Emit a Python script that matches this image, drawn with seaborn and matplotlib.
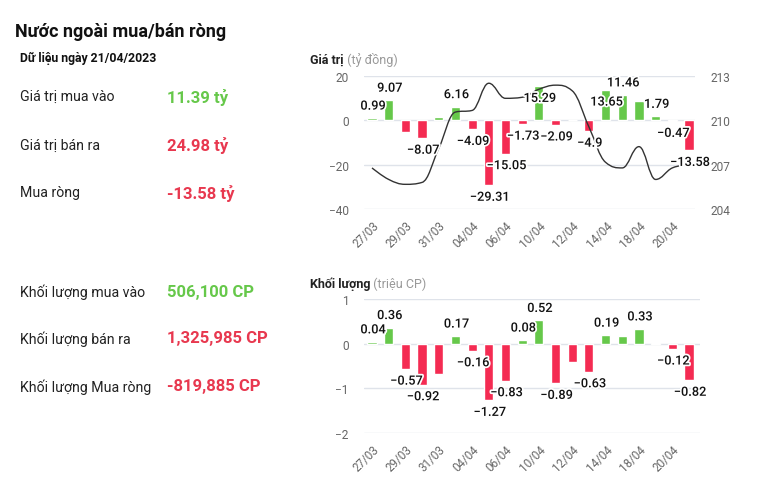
import numpy as np
import pandas as pd
import seaborn as sns
import matplotlib.pyplot as plt
from matplotlib.path import Path
from matplotlib.patches import PathPatch
import matplotlib.patheffects as pe

# dữ liệu
dates = ["27/03", "28/03", "29/03", "30/03", "31/03", "03/04", "04/04", "05/04", "06/04", "07/04",
         "10/04", "11/04", "12/04", "13/04", "14/04", "17/04", "18/04", "19/04", "20/04", "21/04"]
gia_tri = [0.99, 9.07, -5.3, -8.07, 1.3, 6.16, -4.09, -29.31, -15.05, -1.73,
           15.29, -2.09, 0.0, -4.9, 13.65, 11.46, 8.9, 1.79, -0.47, -13.58]
khoi_luong = [0.04, 0.36, -0.57, -0.92, -0.68, 0.17, -0.16, -1.27, -0.83, 0.08,
              0.52, -0.89, -0.41, -0.63, 0.19, 0.17, 0.33, 0.01, -0.12, -0.82]
gia_cp = [206.78, 206.0, 205.67, 205.8, 208.1, 210.56, 210.67, 212.51, 211.49, 211.56,
          212.1, 212.38, 212.0, 209.56, 207.16, 206.78, 208.22, 206.0, 206.78, 207.0]
# cách hiển thị nhãn: "out" ngoài cột, "in" trong cột, "" ẩn
nhan_gt = ["out", "out", "", "out", "", "out", "out", "out", "out", "out",
           "in", "out", "", "out", "in", "out", "", "out", "out", "out"]
nhan_kl = ["out", "out", "out", "out", "", "out", "out", "out", "out", "out",
           "out", "out", "", "out", "out", "", "out", "", "out", "out"]

tong_ket_gt = [("Giá trị mua vào", "11.39 tỷ"), ("Giá trị bán ra", "24.98 tỷ"), ("Mua ròng", "-13.58 tỷ")]
tong_ket_kl = [("Khối lượng mua vào", "506,100 CP"), ("Khối lượng bán ra", "1,325,985 CP"),
               ("Khối lượng Mua ròng", "-819,885 CP")]

XANH = "#66c84a"
DO = "#f42b52"
DO_CHU = "#e8384f"
XAM = "#666666"
LUOI = "#dfe3ea"

sns.set_theme(style="white")
plt.rcParams['font.family'] = ['Roboto', 'DejaVu Sans']

fig = plt.figure(figsize=(7.63, 5.02), dpi=100)
W, H = 763, 502


def px(x, y):
    return x / W, 1 - y / H


def fmt(v):
    return f"{v:g}".replace("-", "\u2212")


def spline_path(xs, ys, s=1.5):
    # đường cong kiểu highcharts spline
    n = len(xs)
    d = s + 1
    lc = [None] * n
    rc = [None] * n
    for i in range(1, n - 1):
        px_, py_ = xs[i - 1], ys[i - 1]
        nx_, ny_ = xs[i + 1], ys[i + 1]
        x, y = xs[i], ys[i]
        lcx = (s * x + px_) / d
        lcy = (s * y + py_) / d
        rcx = (s * x + nx_) / d
        rcy = (s * y + ny_) / d
        if rcx != lcx:
            corr = ((rcy - lcy) * (rcx - x)) / (rcx - lcx) + y - rcy
            lcy += corr
            rcy += corr
        if lcy > py_ and lcy > y:
            lcy = max(py_, y)
            rcy = 2 * y - lcy
        elif lcy < py_ and lcy < y:
            lcy = min(py_, y)
            rcy = 2 * y - lcy
        if rcy > ny_ and rcy > y:
            rcy = max(ny_, y)
            lcy = 2 * y - rcy
        elif rcy < ny_ and rcy < y:
            rcy = min(ny_, y)
            lcy = 2 * y - rcy
        lc[i] = (lcx, lcy)
        rc[i] = (rcx, rcy)
    verts = [(xs[0], ys[0])]
    codes = [Path.MOVETO]
    for i in range(1, n):
        c1 = rc[i - 1] if rc[i - 1] else (xs[i - 1], ys[i - 1])
        c2 = lc[i] if lc[i] else (xs[i], ys[i])
        verts += [c1, c2, (xs[i], ys[i])]
        codes += [Path.CURVE4] * 3
    return Path(verts, codes)


def ve_cot(ax, values, ylim, yticks, xmax):
    df = pd.DataFrame({"ngay": dates, "gt": values})
    colors = [XANH if v >= 0 else DO for v in values]
    sns.barplot(data=df, x="ngay", y="gt", hue="ngay", palette=colors, legend=False,
                width=0.55, ax=ax, saturation=1, zorder=2)
    ax.set_xlim(-0.48, xmax)
    ax.set_ylim(*ylim)
    ax.set_yticks(yticks)
    ax.set_yticklabels([fmt(t) for t in yticks], color=XAM, fontsize=8.6)
    ax.set_xticks(range(0, len(dates), 2))
    ax.set_xticklabels(dates[::2], rotation=45, ha="right", rotation_mode="anchor",
                       color=XAM, fontsize=8.4)
    ax.tick_params(axis="x", length=0, pad=7)
    ax.tick_params(axis="y", length=0, pad=11)
    ax.set_xlabel("")
    ax.set_ylabel("")
    for sp in ax.spines.values():
        sp.set_visible(False)
    ax.grid(axis="y", color=LUOI, linewidth=1, zorder=0)
    ax.set_axisbelow(True)


def ve_nhan(ax_ve, ax_du_lieu, values, flags):
    halo = [pe.withStroke(linewidth=2.5, foreground="white")]
    for i, (v, f) in enumerate(zip(values, flags)):
        if not f:
            continue
        off = 12 if v >= 0 else -12
        if f == "in":
            off = -off
        t = ax_ve.annotate(fmt(v), xy=(i, v), xycoords=ax_du_lieu.transData, xytext=(1, off),
                           textcoords="offset pixels", ha="center", va="center", fontsize=9.2,
                           color="#111111", fontweight="medium", zorder=5)
        t.set_path_effects(halo)


# biểu đồ giá trị
ax1 = fig.add_axes([364 / W, 1 - 210 / H, 331 / W, 133 / H])
ve_cot(ax1, gia_tri, (-40, 20), [-40, -20, 0, 20], 19.36)
ax1b = ax1.twinx()
ax1b.set_ylim(204, 213)
ax1b.set_yticks([204, 207, 210, 213])
ax1b.set_yticklabels(["204", "207", "210", "213"], color=XAM, fontsize=8.6)
ax1b.tick_params(axis="y", length=0, pad=11)
for sp in ax1b.spines.values():
    sp.set_visible(False)
ax1b.grid(False)
ax1b.patch.set_visible(False)
ax1b.add_patch(PathPatch(spline_path(list(range(len(dates))), gia_cp), facecolor="none",
                         edgecolor="#333333", linewidth=1.0, zorder=3))
ve_nhan(ax1b, ax1, gia_tri, nhan_gt)

# biểu đồ khối lượng
ax2 = fig.add_axes([364 / W, 1 - 434 / H, 336 / W, 134 / H])
ve_cot(ax2, khoi_luong, (-2, 1), [-2, -1, 0, 1], 19.66)
ve_nhan(ax2, ax2, khoi_luong, nhan_kl)

# tiêu đề biểu đồ
for (x, y, a, b) in [(310, 60, "Giá trị", " (tỷ đồng)"), (310, 284, "Khối lượng", " (triệu CP)")]:
    t1 = fig.text(*px(x, y), a, fontsize=9, fontweight="bold", color="#222222", va="center")
    ax1.annotate(b, xy=(1, 0.5), xycoords=t1, va="center", ha="left", fontsize=9,
                 color="#999999", annotation_clip=False)

# phần bên trái
fig.text(*px(15, 32), "Nước ngoài mua/bán ròng", fontsize=13, fontweight="bold",
         color="#111111", va="center")
fig.text(*px(20, 58), "Dữ liệu ngày 21/04/2023", fontsize=8.8, fontweight="bold",
         color="#111111", va="center")
for ys, rows in [([97, 146, 193], tong_ket_gt), ([292, 339, 387], tong_ket_kl)]:
    for k, (y, (lab, val)) in enumerate(zip(ys, rows)):
        fig.text(*px(20, y), lab, fontsize=10.2, color="#222222", va="center")
        fig.text(*px(167, y), val, fontsize=12, fontweight="bold",
                 color=XANH if k == 0 else DO_CHU, va="center")

plt.savefig("out.png", dpi=100)
